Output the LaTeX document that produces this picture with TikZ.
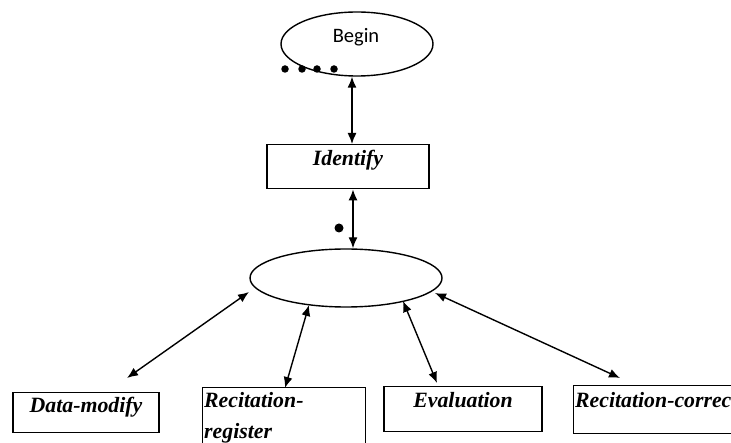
\documentclass[tikz,border=0pt]{standalone}
\usepackage{fontspec}
\setmainfont{Liberation Serif}
\newfontfamily\beginfont{Carlito}
\usetikzlibrary{shapes.geometric,arrows.meta,calc}
\tikzset{
  lbl/.style={font=\fontsize{21.8}{31}\selectfont\bfseries\itshape},
  boxnode/.style={draw, line width=1.4pt, rectangle, inner ysep=0pt, inner xsep=1.5pt, lbl},
  ovalnode/.style={draw, line width=1.4pt, ellipse, inner sep=0pt},
  conn/.style={line width=1.4pt, {Latex[length=11pt,width=9pt]}-{Latex[length=11pt,width=9pt]}},
  dotnode/.style={circle, fill=black, inner sep=0pt}
}
\begin{document}
\begin{tikzpicture}[x=1pt,y=1pt]
\useasboundingbox (0,0) rectangle (731,442);
\clip (0,0) rectangle (731,442);
% top ellipse
\node[ovalnode, minimum width=152pt, minimum height=64pt] (begin) at (357,398) {};
\node[anchor=base, inner sep=0pt, font=\beginfont\fontsize{20.5}{24}\selectfont] (begintext) at (356,399) {Begin};
% dots
\node[dotnode, minimum size=7.5pt] (d1) at (285,373) {};
\node[dotnode, minimum size=7.5pt] (d2) at (302,373) {};
\node[dotnode, minimum size=7.5pt] (d3) at (317,373) {};
\node[dotnode, minimum size=7.5pt] (d4) at (334,373) {};
% identify
\node[boxnode, anchor=north, minimum width=162pt, text height=21pt, text depth=23pt] (identify) at (348,298) {Identify};
\node[dotnode, minimum size=9pt] (d5) at (339,214) {};
% middle ellipse
\node[ovalnode, minimum width=192pt, minimum height=58pt] (mid) at (346,164) {};
% bottom boxes
\node[boxnode, anchor=north, minimum width=146pt, text height=20pt, text depth=20pt] (datamod) at (86,50) {Data-modify};
\node[boxnode, anchor=north west, text width=160pt, align=left, text height=20pt, text depth=50pt, inner xsep=1.5pt] (recreg) at (202,55) {Recitation-\\register};
\node[boxnode, anchor=north, minimum width=158pt, text height=21pt, text depth=24pt] (eval) at (463,56) {Evaluation};
\node[boxnode, anchor=north west, text width=200pt, align=left, text height=22pt, text depth=26pt] (reccor) at (573,57) {Recitation-correct};
% connectors
\draw[conn] ([xshift=-5pt]begin.south) -- ([xshift=4pt]identify.north);
\draw[conn] ([xshift=5pt]identify.south) -- ([xshift=7pt]mid.north);
\draw[conn] ($(mid.center)+(-97,-14)$) -- ($(datamod.north)+(41,14)$);
\draw[conn] ($(mid.center)+(-37,-27)$) -- ($(recreg.north west)+(83,-1)$);
\draw[conn] ($(mid.center)+(57,-23)$) -- ($(eval.north)+(-26,3)$);
\draw[conn] ($(mid.center)+(89,-15)$) -- ($(reccor.north west)+(47,7)$);
\end{tikzpicture}
\end{document}
